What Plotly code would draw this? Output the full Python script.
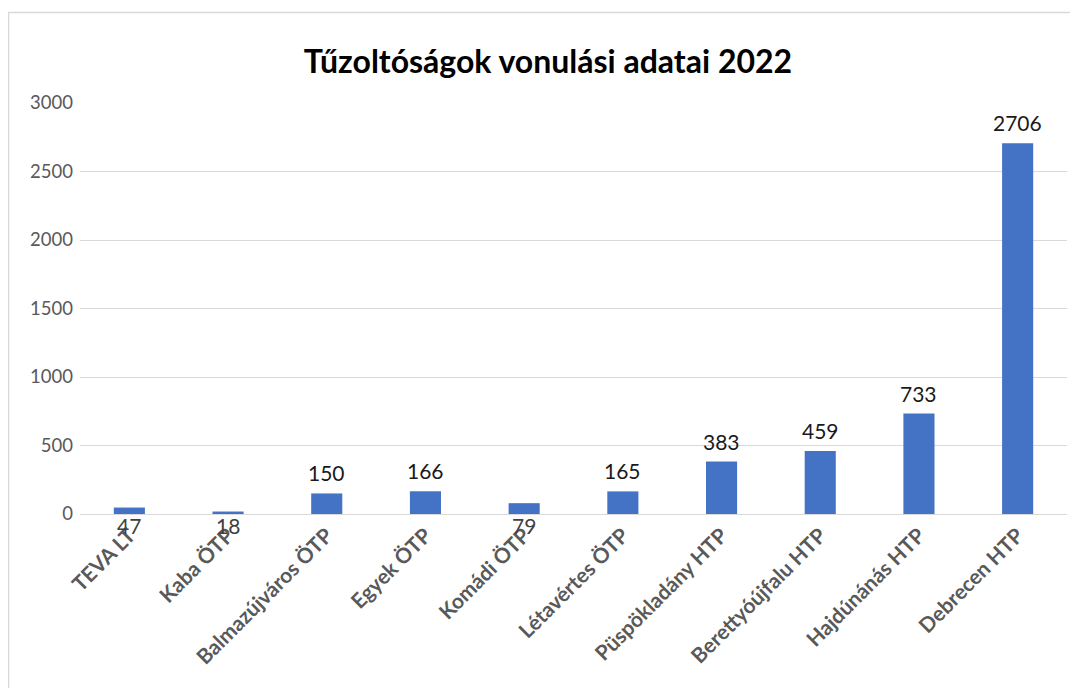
import plotly.graph_objects as go

categories = ["TEVA LT", "Kaba ÖTP", "Balmazújváros ÖTP", "Egyek ÖTP", "Komádi ÖTP",
              "Létavértes ÖTP", "Püspökladány HTP", "Berettyóújfalu HTP",
              "Hajdúnánás HTP", "Debrecen HTP"]
values = [47, 18, 150, 166, 79, 165, 383, 459, 733, 2706]
y_ticks = [0, 500, 1000, 1500, 2000, 2500, 3000]
title_text = "Tűzoltóságok vonulási adatai 2022"

# labels that Excel drew overlapping the axis (below the baseline)
low_labels = {"TEVA LT", "Kaba ÖTP", "Komádi ÖTP"}

OFF = 8  # page body margin
W, H = 1078, 688
L = 80 - OFF
T = 103 - OFF
Rr = 1067 - OFF
Bb = 514 - OFF
R = W - Rr
B = H - Bb
pw, ph = Rr - L, Bb - T

fig = go.Figure()
fig.add_trace(go.Bar(x=categories, y=values, marker=dict(color="#4472C4", line=dict(width=0)),
                     hoverinfo="x+y"))

annotations = []
for c, v in zip(categories, values):
    if c in low_labels:
        annotations.append(dict(x=c, y=0, text=str(v), showarrow=False, xref="x", yref="y",
                                yanchor="middle", yshift=-11,
                                font=dict(family="Lato", size=21, color="#404040")))
    else:
        annotations.append(dict(x=c, y=v, text=str(v), showarrow=False, xref="x", yref="y",
                                yanchor="bottom", yshift=6,
                                font=dict(family="Lato", size=21, color="#1a1a1a")))

def px_x(p):
    return (p - OFF - L) / pw

def px_y(p):
    return (Bb - (p - OFF)) / ph

fig.update_layout(
    width=W, height=H,
    margin=dict(l=L, r=R, t=T, b=B, autoexpand=False),
    paper_bgcolor="white", plot_bgcolor="white",
    bargap=0.685,
    showlegend=False,
    title=dict(text="<b>" + title_text + "</b>", x=(548 - OFF) / W, y=1 - (62 - OFF) / H,
               xanchor="center", yanchor="middle",
               font=dict(family="Lato", size=32, color="#000000")),
    xaxis=dict(type="category", tickangle=-45, showgrid=False, showline=True,
               linecolor="#d9d9d9", linewidth=1,
               tickfont=dict(family="Lato", size=21, color="#595959", weight="bold"),
               ticks="", fixedrange=True),
    yaxis=dict(range=[0, 3000], tickvals=y_ticks, showgrid=True, gridcolor="#d9d9d9",
               gridwidth=1, zeroline=False, showline=False, ticks="",
               ticklabelstandoff=6,
               tickfont=dict(family="Lato", size=18.5, color="#595959"), fixedrange=True),
    annotations=annotations,
    shapes=[dict(type="rect", xref="paper", yref="paper",
                 x0=px_x(8.5), x1=px_x(1100), y0=px_y(700), y1=px_y(12.5),
                 line=dict(color="#d9d9d9", width=1.5), fillcolor="rgba(0,0,0,0)",
                 layer="below")],
)

fig.write_html("out.html")
